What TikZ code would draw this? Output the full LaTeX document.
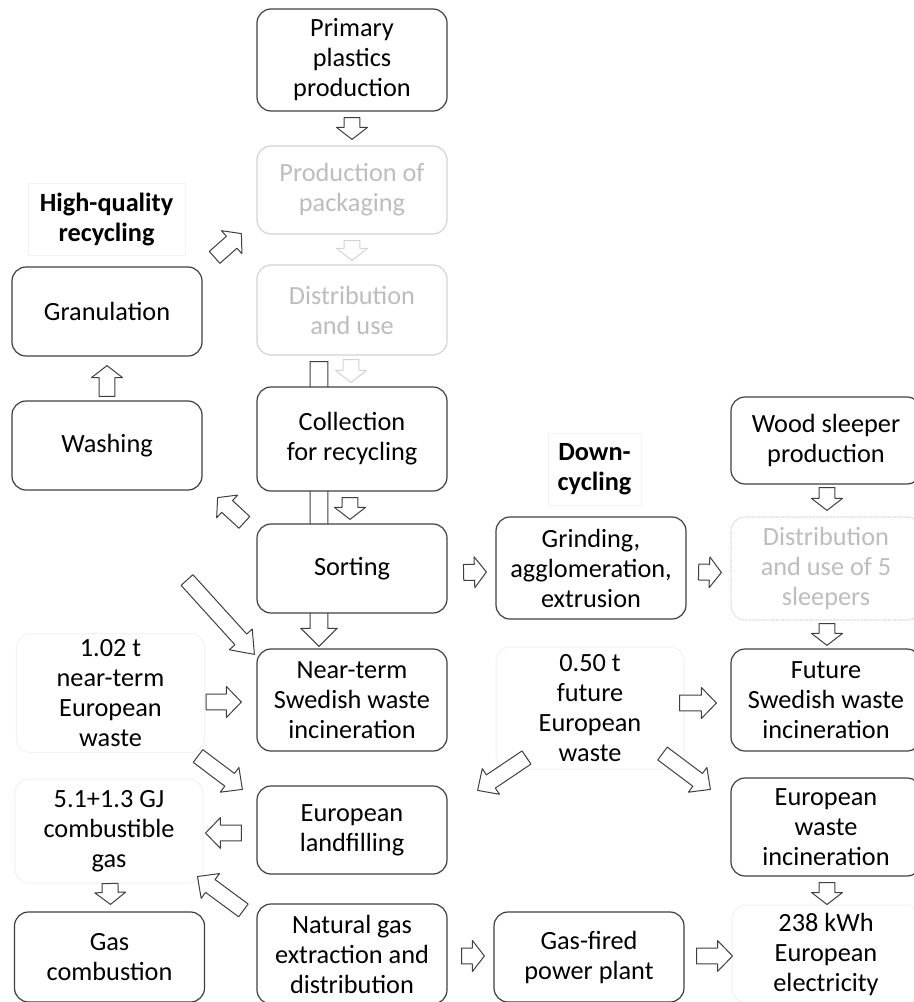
\documentclass[tikz,border=0pt]{standalone}
\usepackage{fontspec}
\setmainfont{Carlito}
\usepackage{tikz}
\usetikzlibrary{calc}
\pgfdeclarelayer{bg}
\pgfsetlayers{bg,main}
\definecolor{boxline}{HTML}{3F3F3F}
\definecolor{ghostline}{HTML}{D3D3D3}
\definecolor{ghosttext}{HTML}{BDBDBD}
\definecolor{faintline}{HTML}{F2F2F2}
\tikzset{
every picture/.style={line join=round},
every node/.style={font=\fontsize{26.3bp}{30bp}\selectfont, align=center, inner sep=0pt},
flow box/.style={draw=boxline, fill=white, rounded corners=14bp, line width=1.2bp, minimum width=190bp},
ghost box/.style={flow box, draw=ghostline, text=ghosttext},
ghost dotted/.style={ghost box, densely dotted},
faint box/.style={draw=faintline, rounded corners=14bp, line width=1bp, minimum width=188bp},
title box/.style={draw=faintline, line width=0.8bp, font=\fontsize{26.3bp}{30bp}\selectfont\bfseries},
fat arrow/.style={draw=boxline, fill=white, line width=1bp},
ghost arrow/.style={fat arrow, draw=ghostline},
fat shaft/.store in=\fatS, fat head/.store in=\fatW, fat tip/.store in=\fatL,
fat shaft=8, fat head=15.5, fat tip=12
}
% outlined block arrow from #2 (tail) to #3 (tip)
\newcommand\fatarr[3][]{%
  \draw[fat arrow,#1] let \p1=(#2), \p2=(#3),
      \n1={atan2(\y2-\y1,\x2-\x1)}, \n2={veclen(\x2-\x1,\y2-\y1)} in
    ($(\p1)+(\n1+90:\fatS pt)$)
    -- ($(\p1)+(\n1:\n2-\fatL pt)+(\n1+90:\fatS pt)$)
    -- ($(\p1)+(\n1:\n2-\fatL pt)+(\n1+90:\fatW pt)$)
    -- (\p2)
    -- ($(\p1)+(\n1:\n2-\fatL pt)+(\n1-90:\fatW pt)$)
    -- ($(\p1)+(\n1:\n2-\fatL pt)+(\n1-90:\fatS pt)$)
    -- ($(\p1)+(\n1-90:\fatS pt)$) -- cycle;}

\begin{document}
\begin{tikzpicture}[x=1bp,y=-1bp]
\useasboundingbox (0,0) rectangle (914,1002);
% centre column
\node[flow box, minimum height=102bp] (prim) at (352,60) {Primary\\plastics\\production};
\node[ghost box, minimum height=88bp] (pack) at (352,190) {Production of\\packaging};
\node[ghost box, minimum height=90bp] (dist) at (352,310) {Distribution\\and use};
\node[flow box, minimum height=104bp] (coll) at (352,439) {Collection\\for recycling};
\node[flow box, minimum height=89bp] (sort) at (352,568.5) {Sorting};
\node[flow box, minimum height=102bp] (near) at (352,700) {Near-term\\Swedish waste\\incineration};
\node[flow box, minimum height=88bp] (land) at (352,830) {European\\landfilling};
\node[flow box, minimum height=100bp] (ngas) at (352,954) {Natural gas\\extraction and\\distribution};
% left column
\node[title box, minimum width=157bp, minimum height=72bp] (hq) at (106.5,219) {High-quality\\recycling};
\node[flow box, minimum height=89bp] (gran) at (107,311.5) {Granulation};
\node[flow box, minimum height=89bp] (wash) at (107,445.5) {Washing};
\node[faint box, minimum height=119bp] (neareu) at (110.5,693) {1.02 t\\near-term\\European\\waste};
\node[faint box, minimum height=104bp] (cgas) at (109,831) {5.1+1.3 GJ\\combustible\\gas};
\node[flow box, minimum height=90bp] (gcomb) at (109.5,957) {Gas\\combustion};
% down-cycling column
\node[title box, minimum width=93bp, minimum height=72bp] (dc) at (594.5,469) {Down-\\cycling};
\node[flow box, minimum height=102bp] (grind) at (591,568) {Grinding,\\agglomeration,\\extrusion};
\node[faint box, minimum height=122bp] (ofive) at (590,708) {0.50 t\\future\\European\\waste};
\node[flow box, minimum height=90bp] (gfire) at (589,957) {Gas-fired\\power plant};
% right column
\node[flow box, minimum height=87bp] (wood) at (826,440.5) {Wood sleeper\\production};
\node[ghost dotted, minimum height=103bp] (dsleep) at (826,568.5) {Distribution\\and use of 5\\sleepers};
\node[flow box, minimum height=102bp] (fut) at (826,700) {Future\\Swedish waste\\incineration};
\node[flow box, minimum height=98bp] (euinc) at (826,827) {European\\waste\\incineration};
\node[faint box, minimum height=98bp] (elec) at (826,954) {238 kWh\\European\\electricity};

\coordinate (rej) at (187,580);

\begin{pgfonlayer}{bg}
\fill[white] (0,0) rectangle (914,1002);
\fatarr[fat shaft=9, fat head=18, fat tip=18]{$(dist.south)+(-33,6)$}{$(near.north)+(-33,-2)$}
\end{pgfonlayer}

\fatarr{$(prim.south)+(0,6)$}{$(pack.north)+(0,-6)$}
\fatarr[ghost arrow]{$(pack.south)+(0,6)$}{$(dist.north)+(0,-4)$}
\fatarr[ghost arrow]{$(dist.south)+(-1,4)$}{$(coll.north)+(-1,-4)$}
\fatarr{$(coll.south)+(-2,6)$}{$(sort.north)+(-2,-4)$}
\fatarr{$(wash.north)+(0,-4)$}{$(gran.south)+(0,9)$}
\fatarr[fat tip=13]{$(gran.north east)+(12,-9)$}{$(pack.south west)+(-15,-1)$}
\fatarr[fat tip=13]{$(sort.north west)+(-12,-1)$}{$(wash.south east)+(15,7)$}
\fatarr{$(sort.east)+(16,4)$}{$(grind.west)+(-9,4)$}
\fatarr{$(grind.east)+(12,4)$}{$(dsleep.west)+(-9,4)$}
\fatarr{$(wood.south)+(1,3)$}{$(dsleep.north)+(1,-6)$}
\fatarr{$(dsleep.south)+(1,3)$}{$(fut.north)+(1,-3)$}
\fatarr{$(euinc.south)+(1,6)$}{$(elec.north)+(1,0)$}
\fatarr{$(cgas.south)+(1,0)$}{$(gcomb.north)+(1,-7)$}
\fatarr[fat tip=15]{$(neareu.east)+(1,9)$}{$(near.west)+(-15,2)$}
\fatarr[fat tip=15]{$(ofive.east)+(-5,-5)$}{$(fut.west)+(-14,3)$}
\fatarr[fat tip=15]{$(land.west)+(-15,3)$}{$(cgas.east)+(2,2)$}
\fatarr{$(ngas.east)+(14,2)$}{$(gfire.west)+(-9,-1)$}
\fatarr[fat tip=15]{$(gfire.east)+(12,-1)$}{$(elec.west)+(1,2)$}
\fatarr[fat tip=20]{rej}{$(near.north west)+(-2,6)$}
\fatarr[fat tip=16]{$(neareu.south east)+(-7,3)$}{$(land.north west)+(-14,4)$}
\fatarr[fat tip=16]{$(ngas.north west)+(-13,7)$}{$(cgas.south east)+(-6,-7)$}
\fatarr[fat tip=16]{$(ofive.south west)+(31,-12)$}{$(land.north east)+(30,5)$}
\fatarr[fat tip=16]{$(ofive.south east)+(-22,-16)$}{$(euinc.north west)+(-20,12)$}
\end{tikzpicture}
\end{document}
